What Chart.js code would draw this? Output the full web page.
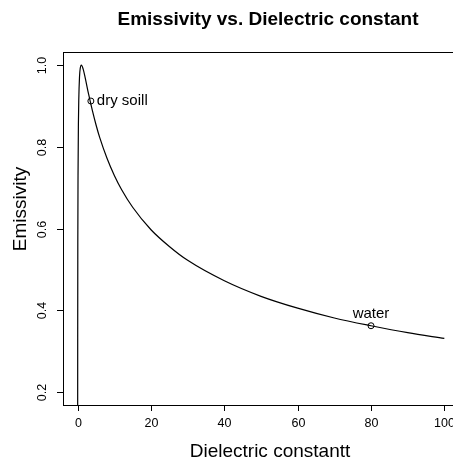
<!DOCTYPE html>
<html>
<head>
<meta charset="utf-8">
<script src="https://cdn.jsdelivr.net/npm/chart.js@4"></script>
<style>
  html, body { margin: 0; padding: 0; overflow: hidden; background: #fff; }
  #wrap { width: 465px; height: 462px; }
</style>
</head>
<body>
<div id="wrap"><canvas id="emisChart" width="465" height="462"></canvas></div>
<script>
// values
const dielectric = [0, 0.01, 0.05, 0.1, 0.2, 0.3, 0.5, 0.7, 1, 1.5, 2, 3, 4, 5, 6, 8, 10, 12, 15, 20, 25, 30, 40, 50, 60, 70, 80, 90, 100];
const emissivity = [0, 0.331, 0.597, 0.730, 0.854, 0.914, 0.971, 0.992, 1.0, 0.990, 0.971, 0.928, 0.889, 0.854, 0.823, 0.772, 0.730, 0.695, 0.652, 0.597, 0.556, 0.522, 0.472, 0.434, 0.405, 0.381, 0.362, 0.345, 0.331];
const markNames = ["dry soill", "water"];
const markX = [3.6, 80];
const markY = [0.912, 0.362];
const xTicks = [0, 20, 40, 60, 80, 100];
const yTicks = [0.2, 0.4, 0.6, 0.8, 1.0];

const ctx = document.getElementById("emisChart").getContext("2d");
const FONT = "'Liberation Sans', Arial, Helvetica, sans-serif";

const rPlot = {
  id: "rPlot",
  afterDraw(chart) {
    const c = chart.ctx;
    const a = chart.chartArea;
    const xs = chart.scales.x;
    const ys = chart.scales.y;
    c.save();
    c.strokeStyle = "#000";
    c.fillStyle = "#000";
    c.lineWidth = 1;
    // box
    c.strokeRect(a.left + 0.5, a.top + 0.5, a.right - a.left, a.bottom - a.top);
    // x ticks
    c.font = "12.5px " + FONT;
    c.textAlign = "center";
    c.textBaseline = "top";
    xTicks.forEach(v => {
      const px = Math.round(xs.getPixelForValue(v)) + 0.5;
      c.beginPath();
      c.moveTo(px, a.bottom);
      c.lineTo(px, a.bottom + 6);
      c.stroke();
      c.fillText(String(v), px, a.bottom + 12);
    });
    // y ticks
    yTicks.forEach(v => {
      const py = Math.round(ys.getPixelForValue(v)) + 0.5;
      c.beginPath();
      c.moveTo(a.left, py);
      c.lineTo(a.left - 6, py);
      c.stroke();
      c.save();
      c.translate(a.left - 20, py);
      c.rotate(-Math.PI / 2);
      c.textAlign = "center";
      c.textBaseline = "middle";
      c.fillText(v.toFixed(1), 0, 0);
      c.restore();
    });
    // marker labels
    c.font = "15px " + FONT;
    c.textBaseline = "middle";
    c.textAlign = "left";
    c.fillText(markNames[0], xs.getPixelForValue(markX[0]) + 6, ys.getPixelForValue(markY[0]));
    c.textAlign = "center";
    c.textBaseline = "bottom";
    c.fillText(markNames[1], xs.getPixelForValue(markX[1]), ys.getPixelForValue(markY[1]) - 4);
    // titles
    c.font = "bold 19px " + FONT;
    c.textAlign = "center";
    c.textBaseline = "middle";
    c.fillText("Emissivity vs. Dielectric constant", 268, 20);
    c.font = "19px " + FONT;
    c.fillText("Dielectric constantt", 270, 452);
    c.save();
    c.translate(21, 209);
    c.rotate(-Math.PI / 2);
    c.fillText("Emissivity", 0, 0);
    c.restore();
    c.restore();
  }
};

new Chart(ctx, {
  type: "line",
  data: {
    datasets: [
      {
        data: dielectric.map((x, i) => ({ x: x, y: emissivity[i] })),
        borderColor: "#000",
        borderWidth: 1.2,
        pointRadius: 0,
        fill: false,
        cubicInterpolationMode: "monotone",
      },
      {
        type: "scatter",
        data: markX.map((x, i) => ({ x: x, y: markY[i] })),
        pointRadius: 3,
        pointBorderColor: "#000",
        pointBackgroundColor: "rgba(0,0,0,0)",
        pointBorderWidth: 1,
        showLine: false,
      },
    ],
  },
  options: {
    responsive: false,
    animation: false,
    layout: { padding: { left: 63, right: 6, top: 52, bottom: 57 } },
    plugins: { legend: { display: false }, tooltip: { enabled: false } },
    scales: {
      x: { type: "linear", min: -4, max: 104, display: false },
      y: { type: "linear", min: 0.168, max: 1.032, display: false },
    },
  },
  plugins: [rPlot],
});
</script>
</body>
</html>
